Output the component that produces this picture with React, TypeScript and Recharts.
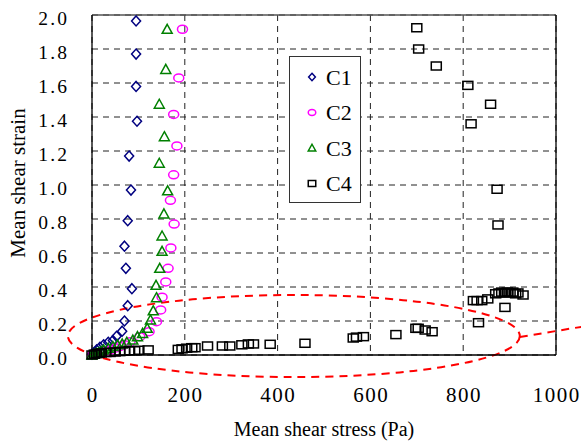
import React from "react";
import {
  CartesianGrid,
  Legend,
  ReferenceArea,
  ReferenceLine,
  Scatter,
  ScatterChart,
  XAxis,
  YAxis,
} from "recharts";

const FONT = "'Liberation Serif', 'Times New Roman', serif";

const xTicks = [0, 200, 400, 600, 800, 1000];
const yTicks = [0, 0.2, 0.4, 0.6, 0.8, 1.0, 1.2, 1.4, 1.6, 1.8, 2.0];

// C1
const c1Stress = [0, 5, 10, 17, 25, 35, 45, 53, 65, 70, 77, 86, 73, 70, 77, 84, 80, 97, 95, 95, 95];
const c1Strain = [0.005, 0.015, 0.03, 0.045, 0.06, 0.075, 0.085, 0.11, 0.14, 0.2, 0.29, 0.39, 0.51, 0.64, 0.79, 0.97, 1.17, 1.375, 1.58, 1.77, 1.965];

// C2
const c2Stress = [2, 10, 20, 30, 40, 50, 60, 70, 82, 103, 123, 139, 148, 151, 159, 164, 170, 177, 169, 176, 183, 176, 187, 195];
const c2Strain = [0.005, 0.01, 0.015, 0.02, 0.03, 0.04, 0.05, 0.06, 0.078, 0.108, 0.137, 0.196, 0.265, 0.34, 0.43, 0.51, 0.63, 0.77, 0.91, 1.06, 1.23, 1.415, 1.63, 1.916];

// C3
const c3Stress = [0, 5, 10, 15, 20, 25, 35, 45, 55, 65, 75, 88, 98, 109, 119, 126, 132, 139, 138, 146, 151, 151, 155, 163, 145, 156, 145, 159, 162];
const c3Strain = [0, 0.005, 0.01, 0.015, 0.02, 0.03, 0.04, 0.05, 0.06, 0.065, 0.075, 0.088, 0.108, 0.127, 0.157, 0.206, 0.26, 0.337, 0.41, 0.51, 0.61, 0.7, 0.83, 0.966, 1.128, 1.284, 1.475, 1.68, 1.916];

// C4
const c4Stress = [
  0, 5, 10, 15, 20, 30, 39, 50, 60, 70, 81, 92, 101, 121, 186, 194, 204, 215, 222, 249, 281, 297, 323, 337, 348,
  384, 459, 563, 570, 585, 655, 698, 703, 718, 733, 822, 830, 840, 853, 833, 890, 870, 877, 883, 889, 895, 901,
  907, 913, 918, 929, 873, 875, 700, 704, 742, 810, 859, 817,
];
const c4Strain = [
  0, 0.005, 0.008, 0.01, 0.012, 0.015, 0.015, 0.018, 0.02, 0.022, 0.025, 0.025, 0.028, 0.03, 0.033, 0.036, 0.04,
  0.043, 0.043, 0.053, 0.053, 0.053, 0.06, 0.065, 0.065, 0.063, 0.069, 0.1, 0.105, 0.108, 0.12, 0.157, 0.157,
  0.147, 0.137, 0.32, 0.32, 0.32, 0.33, 0.19, 0.28, 0.36, 0.365, 0.37, 0.365, 0.37, 0.365, 0.37, 0.36, 0.365,
  0.353, 0.975, 0.765, 1.925, 1.8, 1.7, 1.586, 1.475, 1.36,
];

type Kind = "diamond" | "circle" | "triangle" | "square";

const series: { name: string; stress: number[]; strain: number[]; color: string; kind: Kind }[] = [
  { name: "C1", stress: c1Stress, strain: c1Strain, color: "#000080", kind: "diamond" },
  { name: "C2", stress: c2Stress, strain: c2Strain, color: "#FF00FF", kind: "circle" },
  { name: "C3", stress: c3Stress, strain: c3Strain, color: "#008000", kind: "triangle" },
  { name: "C4", stress: c4Stress, strain: c4Strain, color: "#000000", kind: "square" },
];

function Marker({ kind, cx, cy, color, s = 1 }: { kind: Kind; cx: number; cy: number; color: string; s?: number }) {
  const common = { fill: "none", stroke: color, strokeWidth: 1.5 };
  if (kind === "diamond") {
    const w = 4.5 * s, h = 5 * s;
    return <polygon points={`${cx},${cy - h} ${cx + w},${cy} ${cx},${cy + h} ${cx - w},${cy}`} {...common} />;
  }
  if (kind === "circle") return <ellipse cx={cx} cy={cy} rx={5 * s} ry={4 * s} {...common} />;
  if (kind === "triangle") {
    const w = 5 * s;
    return <polygon points={`${cx},${cy - 5 * s} ${cx + w},${cy + 4 * s} ${cx - w},${cy + 4 * s}`} {...common} />;
  }
  return <rect x={cx - 5 * s} y={cy - 4 * s} width={10 * s} height={8 * s} {...common} />;
}

function LegendBox() {
  return (
    <div style={{ width: 72, height: 147, border: "1px solid #333", background: "#fff", boxSizing: "border-box" }}>
      <svg width={70} height={145}>
        {series.map((s, i) => {
          const y = 20 + i * 35.5;
          return (
            <g key={s.name}>
              <Marker kind={s.kind} cx={22} cy={y} color={s.color} s={0.75} />
              <text x={36} y={y + 7.5} fontFamily={FONT} fontSize={22} fill="#000">
                {s.name}
              </text>
            </g>
          );
        })}
      </svg>
    </div>
  );
}

const XTick = (p: any) => (
  <text x={p.x + 0.75} y={p.y + 16} textAnchor="middle" fontFamily={FONT} fontSize={21} letterSpacing={1.5} fill="#000">
    {p.payload.value}
  </text>
);

const YTick = (p: any) => (
  <text x={p.x + 2.2} y={p.y + 10} textAnchor="end" fontFamily={FONT} fontSize={19.5} letterSpacing={2.2} fill="#000">
    {Number(p.payload.value).toFixed(1)}
  </text>
);

export default function App() {
  return (
    <div style={{ width: 581, height: 445, background: "#fff", fontFamily: FONT }}>
      <style>{"body{margin:0}"}</style>
      <ScatterChart width={581} height={445} margin={{ top: 15, right: 25, bottom: 0, left: 0 }}>
        <CartesianGrid stroke="#222" strokeDasharray="6 5" strokeWidth={1} />
        <XAxis
          type="number"
          dataKey="x"
          domain={[0, 1000]}
          ticks={xTicks}
          height={90}
          tickSize={0}
          tickMargin={31}
          tick={XTick}
          axisLine={{ stroke: "#000", strokeWidth: 1.3 }}
          label={{
            content: () => (
              <text x={324} y={436} textAnchor="middle" fontFamily={FONT} fontSize={20} fill="#000">
                Mean shear stress (Pa)
              </text>
            ),
          }}
        />
        <YAxis
          type="number"
          dataKey="y"
          domain={[0, 2]}
          ticks={yTicks}
          width={92}
          tickSize={0}
          tickMargin={25}
          tick={YTick}
          axisLine={{ stroke: "#000", strokeWidth: 1.3 }}
          label={{
            content: () => (
              <text
                x={25}
                y={183}
                transform="rotate(-90, 25, 183)"
                textAnchor="middle"
                fontFamily={FONT}
                fontSize={21}
                fill="#000"
              >
                Mean shear strain
              </text>
            ),
          }}
        />
        <ReferenceLine y={2} stroke="#555" strokeWidth={1.3} />
        <ReferenceLine x={1000} stroke="#000" strokeWidth={1.3} />
        {series.map((s) => (
          <Scatter
            key={s.name}
            name={s.name}
            data={s.stress.map((x, i) => ({ x, y: s.strain[i] }))}
            isAnimationActive={false}
            shape={(p: any) => <Marker kind={s.kind} cx={p.cx} cy={p.cy} color={s.color} />}
          />
        ))}
        <ReferenceArea
          x1={-52}
          x2={922}
          y1={-0.13}
          y2={0.353}
          ifOverflow="visible"
          shape={(p: any) => (
            <ellipse
              cx={p.x + p.width / 2}
              cy={p.y + p.height / 2}
              rx={Math.abs(p.width) / 2}
              ry={Math.abs(p.height) / 2}
              fill="none"
              stroke="#FF0000"
              strokeWidth={2}
              strokeDasharray="8 6"
            />
          )}
        />
        <ReferenceLine
          segment={[
            { x: 922, y: 0.106 },
            { x: 1060, y: 0.168 },
          ]}
          ifOverflow="visible"
          stroke="#FF0000"
          strokeWidth={2}
          strokeDasharray="8 6"
        />
        <Legend
          layout="vertical"
          align="center"
          verticalAlign="middle"
          wrapperStyle={{ left: 289, top: 56, width: 72, height: 147 }}
          content={() => <LegendBox />}
        />
      </ScatterChart>
    </div>
  );
}
